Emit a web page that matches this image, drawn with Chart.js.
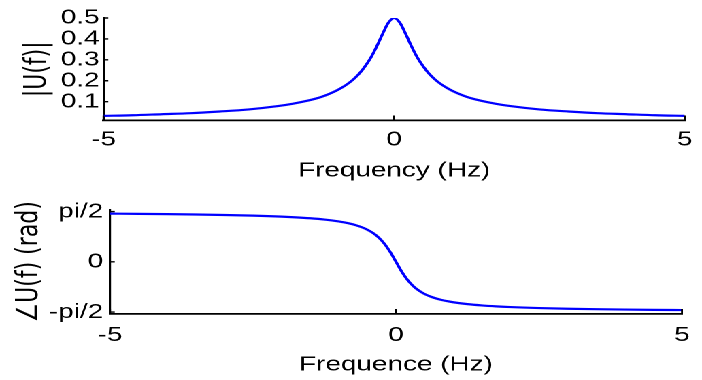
<!DOCTYPE html>
<html>
<head>
<meta charset="utf-8">
<script src="https://cdn.jsdelivr.net/npm/chart.js@4"></script>
<style>
  html, body { margin: 0; padding: 0; background: #fff; overflow: hidden; }
  #wrap { position: absolute; left: 0; top: 0; width: 516px; height: 380px; transform: scaleX(1.3605); transform-origin: 0 0; }
  #wrap canvas { position: absolute; left: 0; }
  #mag { top: 0; }
  #phase { top: 190px; }
</style>
</head>
<body>
<div id="wrap">
  <canvas id="mag" width="516" height="190"></canvas>
  <canvas id="phase" width="516" height="190"></canvas>
</div>
<script>
// values
const freqHz = [-5, -4.5, -4, -3.5, -3, -2.5, -2, -1.75, -1.5, -1.25, -1, -0.9, -0.8, -0.7, -0.6, -0.5, -0.4, -0.3, -0.2, -0.1,
	0, 0.1, 0.2, 0.3, 0.4, 0.5, 0.6, 0.7, 0.8, 0.9, 1, 1.25, 1.5, 1.75, 2, 2.5, 3, 3.5, 4, 4.5, 5];
const magnitude = [0.032, 0.035, 0.040, 0.045, 0.053, 0.063, 0.079, 0.090, 0.104, 0.123, 0.152, 0.167, 0.185, 0.207, 0.234, 0.269, 0.311, 0.364, 0.423, 0.477,
	0.500, 0.477, 0.423, 0.364, 0.311, 0.269, 0.234, 0.207, 0.185, 0.167, 0.152, 0.123, 0.104, 0.090, 0.079, 0.063, 0.053, 0.045, 0.040, 0.035, 0.032];
const phaseRad = [1.507, 1.500, 1.491, 1.480, 1.465, 1.444, 1.413, 1.391, 1.362, 1.322, 1.263, 1.231, 1.192, 1.144, 1.083, 1.004, 0.899, 0.756, 0.561, 0.305,
	0, -0.305, -0.561, -0.756, -0.899, -1.004, -1.083, -1.144, -1.192, -1.231, -1.263, -1.322, -1.362, -1.391, -1.413, -1.444, -1.465, -1.480, -1.491, -1.500, -1.507];

const freqTicks = [-5, 0, 5];
const magTicks = [0.1, 0.2, 0.3, 0.4, 0.5];
const phaseTicks = [-1.5708, 0, 1.5708];
const phaseTickLabels = ['-pi/2', '0', 'pi/2'];

const tickFont = { family: '"Liberation Sans", Arial, sans-serif', size: 20.5 };
const yTitleFont = { family: '"DejaVu Sans", sans-serif', size: 22 };

// matlab style ticks pointing into the axes
const inwardTicks = {
	id: 'inwardTicks',
	afterDatasetsDraw(chart) {
		const { ctx, chartArea, scales } = chart;
		ctx.save();
		ctx.strokeStyle = '#000';
		ctx.lineWidth = 1.4;
		ctx.beginPath();
		scales.x.ticks.forEach((t) => {
			const px = scales.x.getPixelForValue(t.value);
			ctx.moveTo(px, chartArea.bottom);
			ctx.lineTo(px, chartArea.bottom - 5);
		});
		scales.y.ticks.forEach((t) => {
			const py = scales.y.getPixelForValue(t.value);
			ctx.moveTo(chartArea.left, py);
			ctx.lineTo(chartArea.left + 3.5, py);
		});
		ctx.stroke();
		ctx.restore();
	}
};

function makeChart(id, values, opts) {
	const ctx = document.getElementById(id);
	return new Chart(ctx, {
		type: 'line',
		data: {
			labels: freqHz,
			datasets: [{
				data: freqHz.map((f, i) => ({ x: f, y: values[i] })),
				borderColor: '#0000ff',
				borderWidth: 2.2,
				pointRadius: 0,
				cubicInterpolationMode: 'monotone',
				fill: false
			}]
		},
		options: {
			responsive: false,
			animation: false,
			devicePixelRatio: 2,
			layout: { padding: opts.padding },
			plugins: { legend: { display: false }, tooltip: { enabled: false } },
			scales: {
				x: {
					type: 'linear',
					min: -5,
					max: 5,
					grid: { display: false, drawTicks: false },
					border: { display: true, color: '#000', width: 1.8 },
					afterBuildTicks: (s) => { s.ticks = freqTicks.map((v) => ({ value: v })); },
					afterFit: (s) => { s.height = opts.xHeight; },
					ticks: { color: '#000', font: tickFont, padding: opts.xTickPad, maxRotation: 0, autoSkip: false, callback: (v) => String(v) },
					title: { display: true, text: opts.xTitle, color: '#000', font: tickFont, padding: { top: 0, bottom: opts.xTitlePad } }
				},
				y: {
					min: opts.yMin,
					max: opts.yMax,
					grid: { display: false, drawTicks: false },
					border: { display: true, color: '#000', width: 1.6 },
					afterBuildTicks: (s) => { s.ticks = opts.yTicks.map((v) => ({ value: v })); },
					afterFit: (s) => { s.width = opts.yWidth; },
					ticks: { color: '#000', font: tickFont, padding: opts.yTickPad, autoSkip: false, callback: (v, i) => opts.yLabels[i] },
					title: { display: true, text: opts.yTitle, color: '#000', font: yTitleFont, padding: { top: opts.yTitlePad, bottom: 0 } }
				}
			}
		},
		plugins: [inwardTicks]
	});
}

makeChart('mag', magnitude, {
	padding: { left: 0, right: 9.6, top: 18, bottom: 0 },
	xHeight: 69.5, yWidth: 76.1,
	xTickPad: 7, xTitlePad: 7, yTickPad: 3, yTitlePad: 14.7,
	yMin: 0.01, yMax: 0.5,
	yTicks: magTicks, yLabels: magTicks.map(String),
	xTitle: 'Frequency (Hz)', yTitle: '|U(f)|'
});

makeChart('phase', phaseRad, {
	padding: { left: 0, right: 9.6, top: 19.7, bottom: 0 },
	xHeight: 66, yWidth: 80.85,
	xTickPad: 9, xTitlePad: 3, yTickPad: 5, yTitlePad: 8.8,
	yMin: -1.63, yMax: 1.63,
	yTicks: phaseTicks, yLabels: phaseTickLabels,
	xTitle: 'Frequence (Hz)', yTitle: '\u2220U(f) (rad)'
});
</script>
</body>
</html>
